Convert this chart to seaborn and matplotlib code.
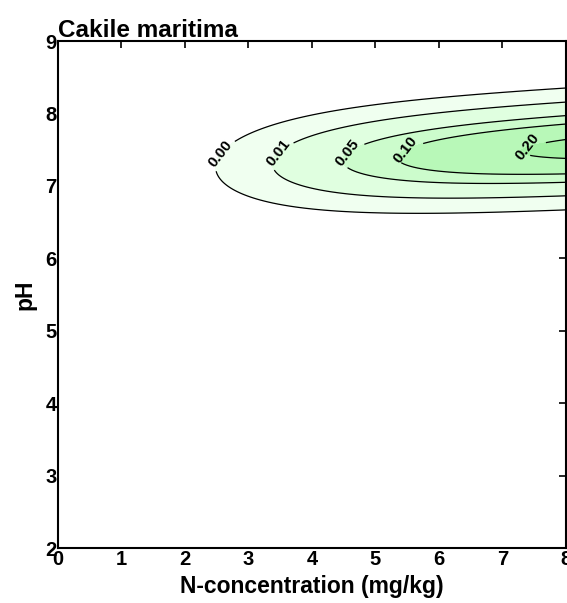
import numpy as np
import matplotlib
matplotlib.use("Agg")
import matplotlib.pyplot as plt
import seaborn as sns

# response surface (logistic model)
b0 = -0.964        # intercept (upper limit of the N term)
b_n = 23.3         # N saturation amplitude
k_n = 0.55         # N saturation rate
c_ph = 8.0         # pH curvature
ph_opt0 = 7.15     # pH optimum at N = 0
ph_opt_slope = 0.045

levels = [0.001, 0.01, 0.05, 0.10, 0.20, 1.0]
fill_colors = ['#f0fff0', '#e0ffe0', '#ccfccc', '#b8f8b8', '#a4f2a4']
label_spots = [(2.6, 7.42), (3.5, 7.42), (4.57, 7.45), (5.5, 7.45), (7.38, 7.58)]

x_ticks = [0, 1, 2, 3, 4, 5, 6, 7, 8]
y_ticks = [2, 3, 4, 5, 6, 7, 8, 9]

sns.set_theme(style="white")
plt.rcParams['font.family'] = ['Liberation Sans', 'DejaVu Sans']
plt.rcParams['text.color'] = 'black'
plt.rcParams['axes.labelcolor'] = 'black'
plt.rcParams['xtick.color'] = 'black'
plt.rcParams['ytick.color'] = 'black'

n = np.linspace(0, 8, 500)
ph = np.linspace(2, 9, 500)
N, PH = np.meshgrid(n, ph)
eta = b0 - b_n * np.exp(-k_n * N) - c_ph * (PH - (ph_opt0 + ph_opt_slope * N)) ** 2
prob = 1 / (1 + np.exp(-eta))

fig = plt.figure(figsize=(5.67, 6.03), dpi=100)
ax = fig.add_axes([0.102, 0.091, 0.896, 0.841])

ax.contourf(N, PH, prob, levels=levels, colors=fill_colors)
cs = ax.contour(N, PH, prob, levels=levels[:-1], colors='black', linewidths=0.9)
lbls = ax.clabel(cs, fmt='%.2f', fontsize=11, manual=label_spots, inline=True, inline_spacing=4)
for t in lbls:
    t.set_fontweight('bold')
    t.set_rotation(52)

ax.set_xlim(0, 8)
ax.set_ylim(2, 9)
ax.set_xticks(x_ticks)
ax.set_yticks(y_ticks)
ax.tick_params(direction='in', length=5, width=1.2, top=True, right=True,
               labelsize=14.5, pad=1)
for lab in ax.get_xticklabels() + ax.get_yticklabels():
    lab.set_fontweight('bold')
for sp in ax.spines.values():
    sp.set_linewidth(1.5)
    sp.set_color('black')

ax.set_xlabel('N-concentration (mg/kg)', fontsize=16.5, fontweight='bold', labelpad=5)
ax.set_ylabel('pH', fontsize=16.5, fontweight='bold', labelpad=6)
ax.set_title('Cakile maritima', fontsize=17.5, fontweight='bold', loc='left', pad=3)

fig.savefig('out.png', dpi=100)
